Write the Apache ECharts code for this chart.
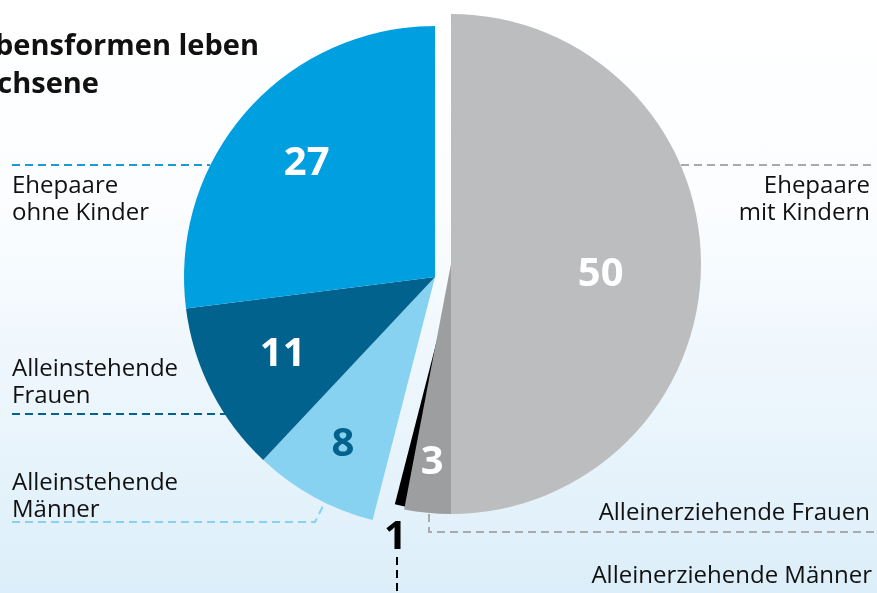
<!DOCTYPE html>
<html>
<head>
<meta charset="utf-8">
<script src="https://cdn.jsdelivr.net/npm/echarts@6/dist/echarts.min.js"></script>
<style>
  html, body { margin: 0; padding: 0; }
  #chart {
    width: 877px;
    height: 593px;
    background: linear-gradient(180deg, #ffffff 0%, #fbfdff 35%, #dceef9 100%);
  }
</style>
</head>
<body>
<div id="chart"></div>
<script>
// Anteile in Prozent, im Uhrzeigersinn ab 12 Uhr
const categories = [
  'Ehepaare mit Kindern',
  'Alleinerziehende Frauen',
  'Alleinerziehende Männer',
  'Alleinstehende Männer',
  'Alleinstehende Frauen',
  'Ehepaare ohne Kinder'
];
const values = [50, 3, 1, 8, 11, 27];

const sliceColors = ['#bcbdbf', '#9d9ea0', '#000000', '#87d1f1', '#00628d', '#009fe0'];
const valueColors = ['#fff', '#fff', '#000', '#00628d', '#fff', '#fff'];
// Abstand der Zahl vom Mittelpunkt, kleine Winkelkorrektur
const labelRadius = [150, 199, 278, 191, 171, 171];
const labelTurn = [4, 0, 0, 0, 0, 0];

// die Gruppen sind leicht auseinandergeschoben
const groups = [
  { members: [2], center: [456, 266], radius: 246, z: 1 },
  { members: [0, 1], center: [451, 264], radius: 250, z: 2 },
  { members: [3, 4, 5], center: [435, 277], radius: 251, z: 3 }
];

const total = values.reduce((a, b) => a + b, 0);
let acc = 0;
const midAngle = values.map(v => {
  const m = (acc + v / 2) / total * 360;
  acc += v;
  return m;
});

const FONT = '"Open Sans", "Noto Sans", sans-serif';

const series = groups.map(g => ({
  type: 'pie',
  center: g.center,
  radius: g.radius,
  startAngle: 90,
  clockwise: true,
  z: g.z,
  silent: true,
  animation: false,
  avoidLabelOverlap: false,
  labelLine: { show: false },
  label: {
    position: 'inside',
    fontFamily: FONT,
    fontWeight: 'bold',
    fontSize: 40,
    formatter: p => String(p.value)
  },
  labelLayout: params => {
    const i = params.dataIndex;
    const a = (midAngle[i] + labelTurn[i]) * Math.PI / 180;
    const r = labelRadius[i];
    return {
      x: g.center[0] + r * Math.sin(a),
      y: g.center[1] - r * Math.cos(a)
    };
  },
  data: values.map((v, i) => {
    const on = g.members.includes(i);
    return {
      name: categories[i],
      value: v,
      itemStyle: { color: on ? sliceColors[i] : 'transparent', borderWidth: 0 },
      label: { show: on, color: valueColors[i] }
    };
  })
}));

// Beschriftungen und gestrichelte Linien
function dashed(points, color) {
  return {
    type: 'polyline',
    silent: true,
    shape: { points: points },
    style: { stroke: color, lineWidth: 2, lineDash: [8, 5], fill: null }
  };
}
function txt(s, x, y, align, opts) {
  return {
    type: 'text',
    silent: true,
    x: x, y: y,
    style: Object.assign({
      text: s,
      font: '24px ' + FONT,
      fill: '#111',
      align: align, textAlign: align,
      verticalAlign: 'middle', textVerticalAlign: 'middle'
    }, opts || {})
  };
}

const graphic = [
  // Titel (links abgeschnitten)
  txt('Lebensformen leben', 259, 47, 'right', { font: 'bold 29px ' + FONT, fill: '#111' }),
  txt('Erwachsene', 99, 85, 'right', { font: 'bold 29px ' + FONT, fill: '#111' }),

  dashed([[12, 165], [210, 165]], '#1a9ad6'),
  txt('Ehepaare', 12, 186, 'left'),
  txt('ohne Kinder', 12, 213, 'left'),

  txt('Alleinstehende', 12, 369, 'left'),
  txt('Frauen', 12, 396, 'left'),
  dashed([[12, 414], [226, 414]], '#00628d'),

  txt('Alleinstehende', 12, 483, 'left'),
  txt('Männer', 12, 510, 'left'),
  dashed([[12, 522], [315, 522], [325, 502]], '#87d1f1'),

  dashed([[681, 165], [872, 165]], '#a9aaac'),
  txt('Ehepaare', 870, 186, 'right'),
  txt('mit Kindern', 870, 213, 'right'),

  txt('Alleinerziehende Frauen', 870, 513, 'right'),
  dashed([[429, 514], [429, 532], [877, 532]], '#a9aaac'),

  dashed([[397, 557], [397, 593]], '#000'),
  txt('Alleinerziehende Männer', 872, 576, 'right')
];

const chart = echarts.init(document.getElementById('chart'));
chart.setOption({
  backgroundColor: 'transparent',
  animation: false,
  series: series,
  graphic: graphic
});
</script>
</body>
</html>
